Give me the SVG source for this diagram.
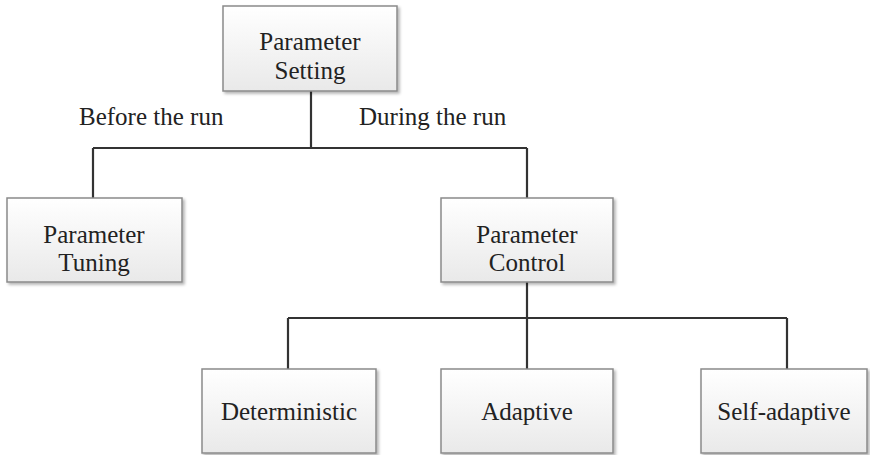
<svg xmlns="http://www.w3.org/2000/svg" width="870" height="455" viewBox="0 0 870 455">
<defs>
<linearGradient id="g" x1="0" y1="0" x2="0" y2="1">
<stop offset="0" stop-color="#ffffff"/>
<stop offset="1" stop-color="#e9e9e9"/>
</linearGradient>
<filter id="sh" x="-10%" y="-10%" width="130%" height="130%">
<feGaussianBlur in="SourceAlpha" stdDeviation="1.5"/>
<feOffset dx="2" dy="2" result="b"/>
<feComponentTransfer><feFuncA type="linear" slope="0.3"/></feComponentTransfer>
<feMerge><feMergeNode/><feMergeNode in="SourceGraphic"/></feMerge>
</filter>
</defs>
<style>
.box{fill:url(#g);stroke:#8a8a8a;stroke-width:1.5;filter:url(#sh)}
.t{font-family:"Liberation Serif","Times New Roman",serif;font-size:25px;fill:#222;text-anchor:middle}
.l{font-family:"Liberation Serif","Times New Roman",serif;font-size:25px;fill:#222}
.c{stroke:#333;stroke-width:2.2;fill:none}
</style>
<rect width="870" height="455" fill="#ffffff"/>
<g id="connectors">
<path class="c" d="M311 91 V148 M93 148 H527 M93 148 V198 M527 148 V198"/>
<path class="c" d="M527 282 V318 M288 318 H787 M288 318 V369 M527 318 V369 M787 318 V369"/>
</g>
<g id="setting">
<rect class="box" x="223" y="6" width="174" height="85"/>
<text class="t" x="310" y="50">Parameter</text>
<text class="t" x="310" y="79">Setting</text>
</g>
<g id="tuning">
<rect class="box" x="7" y="198" width="175" height="84"/>
<text class="t" x="94" y="243">Parameter</text>
<text class="t" x="94" y="271">Tuning</text>
</g>
<g id="control">
<rect class="box" x="441" y="198" width="172" height="84"/>
<text class="t" x="527" y="243">Parameter</text>
<text class="t" x="527" y="271">Control</text>
</g>
<g id="deterministic">
<rect class="box" x="202" y="369" width="174" height="84"/>
<text class="t" x="289" y="420">Deterministic</text>
</g>
<g id="adaptive">
<rect class="box" x="441" y="369" width="172" height="84"/>
<text class="t" x="527" y="420">Adaptive</text>
</g>
<g id="selfadaptive">
<rect class="box" x="701" y="369" width="166" height="84"/>
<text class="t" x="784" y="420">Self-adaptive</text>
</g>
<g id="labels">
<text class="l" x="79" y="125">Before the run</text>
<text class="l" x="359" y="125">During the run</text>
</g>
</svg>
